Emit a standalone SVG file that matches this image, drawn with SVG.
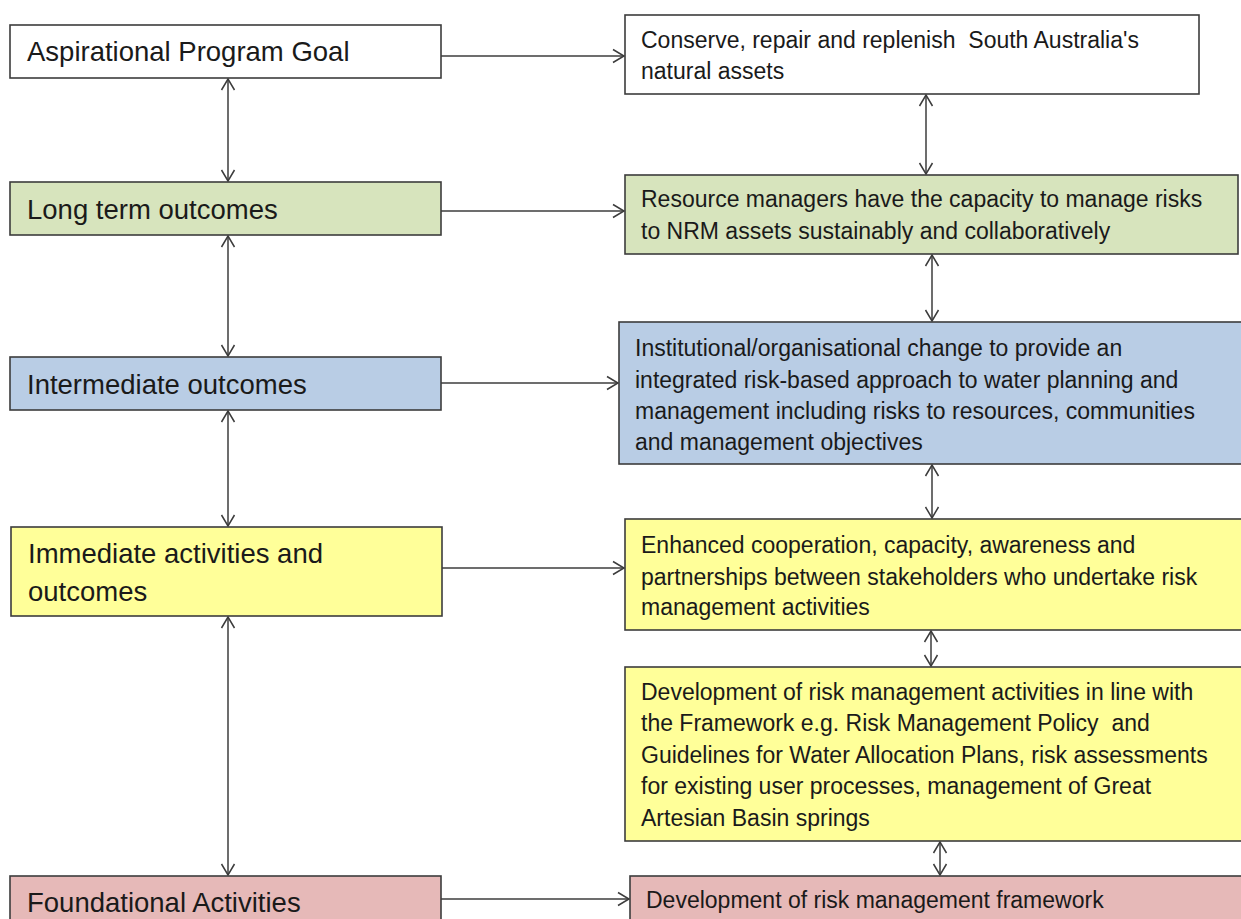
<svg xmlns="http://www.w3.org/2000/svg" width="1241" height="919" viewBox="0 0 1241 919">
<style>
.box{stroke:#3c3c3c;stroke-width:1.6}
.w{fill:#ffffff}.g{fill:#d7e4bd}.b{fill:#b9cde5}.y{fill:#ffff99}.p{fill:#e6b9b8}
.lt{font-family:"Liberation Sans",Arial,sans-serif;font-size:27.5px;fill:#1a1a1a}
.rt{font-family:"Liberation Sans",Arial,sans-serif;font-size:23px;fill:#1a1a1a}
.c{stroke:#3c3c3c;stroke-width:1.5;fill:none;marker-end:url(#ah)}
.d{stroke:#3c3c3c;stroke-width:1.5;fill:none;marker-end:url(#ah);marker-start:url(#ah)}
</style>
<defs>
<marker id="ah" markerUnits="userSpaceOnUse" markerWidth="16" markerHeight="16" refX="12" refY="8" orient="auto-start-reverse" viewBox="0 0 16 16">
<path d="M1,1.5 L12,8 L1,14.5" fill="none" stroke="#3c3c3c" stroke-width="1.5"/>
</marker>
</defs>
<rect width="1241" height="919" fill="#ffffff"/>
<g id="connectors">
<line class="c" x1="441" y1="56" x2="624" y2="56"/>
<line class="c" x1="441" y1="211" x2="624" y2="211"/>
<line class="c" x1="441" y1="383" x2="618" y2="383"/>
<line class="c" x1="441" y1="568" x2="624" y2="568"/>
<line class="c" x1="441" y1="899" x2="629" y2="899"/>
<line class="d" x1="228" y1="79" x2="228" y2="181"/>
<line class="d" x1="228" y1="236" x2="228" y2="356"/>
<line class="d" x1="228" y1="411" x2="228" y2="526"/>
<line class="d" x1="228" y1="617" x2="228" y2="875"/>
<line class="d" x1="926" y1="95" x2="926" y2="174"/>
<line class="d" x1="932" y1="255" x2="932" y2="321"/>
<line class="d" x1="932" y1="465" x2="932" y2="518"/>
<line class="d" x1="931" y1="631" x2="931" y2="666"/>
<line class="d" x1="940" y1="842" x2="940" y2="875"/>
</g>
<g id="aspirational">
<rect class="box w" x="10" y="25" width="431" height="53"/>
<text class="lt" x="27" y="61">Aspirational Program Goal</text>
</g>
<g id="long-term">
<rect class="box g" x="10" y="182" width="431" height="53"/>
<text class="lt" x="27" y="219">Long term outcomes</text>
</g>
<g id="intermediate">
<rect class="box b" x="10" y="357" width="431" height="53"/>
<text class="lt" x="27" y="394">Intermediate outcomes</text>
</g>
<g id="immediate">
<rect class="box y" x="11" y="527" width="431" height="89"/>
<text class="lt" x="28" y="563">Immediate activities and</text>
<text class="lt" x="28" y="601">outcomes</text>
</g>
<g id="foundational">
<rect class="box p" x="10" y="876" width="431" height="60"/>
<text class="lt" x="27" y="912">Foundational Activities</text>
</g>
<g id="goal-detail">
<rect class="box w" x="625" y="15" width="574" height="79"/>
<text class="rt" x="641" y="48" xml:space="preserve">Conserve, repair and replenish  South Australia's</text>
<text class="rt" x="641" y="79">natural assets</text>
</g>
<g id="long-term-detail">
<rect class="box g" x="625" y="175" width="613" height="79"/>
<text class="rt" x="641" y="207">Resource managers have the capacity to manage risks</text>
<text class="rt" x="641" y="239">to NRM assets sustainably and collaboratively</text>
</g>
<g id="intermediate-detail">
<rect class="box b" x="619" y="322" width="630" height="142"/>
<text class="rt" x="635" y="356">Institutional/organisational change to provide an</text>
<text class="rt" x="635" y="388">integrated risk-based approach to water planning and</text>
<text class="rt" x="635" y="419">management including risks to resources, communities</text>
<text class="rt" x="635" y="450">and management objectives</text>
</g>
<g id="immediate-detail">
<rect class="box y" x="625" y="519" width="624" height="111"/>
<text class="rt" x="641" y="553">Enhanced cooperation, capacity, awareness and</text>
<text class="rt" x="641" y="585">partnerships between stakeholders who undertake risk</text>
<text class="rt" x="641" y="615">management activities</text>
</g>
<g id="activities-detail">
<rect class="box y" x="625" y="667" width="624" height="174"/>
<text class="rt" x="641" y="700">Development of risk management activities in line with</text>
<text class="rt" x="641" y="731" xml:space="preserve">the Framework e.g. Risk Management Policy  and</text>
<text class="rt" x="641" y="763">Guidelines for Water Allocation Plans, risk assessments</text>
<text class="rt" x="641" y="794">for existing user processes, management of Great</text>
<text class="rt" x="641" y="826">Artesian Basin springs</text>
</g>
<g id="framework-detail">
<rect class="box p" x="630" y="876" width="620" height="60"/>
<text class="rt" x="646" y="908">Development of risk management framework</text>
</g>
</svg>
